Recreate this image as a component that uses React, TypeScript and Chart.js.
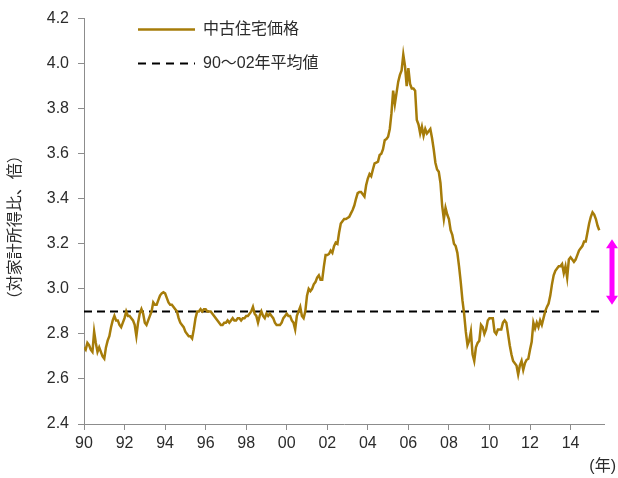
import React, { useEffect, useRef } from "react";
import { Chart, registerables } from "chart.js";

Chart.register(...registerables);

// Monthly ratio of used-home price to household income, Jan 1990 – Jun 2015
const startYear = 1990;
const housePriceRatio: number[] = [
  // 1990
  2.74, 2.73, 2.76, 2.75, 2.73, 2.72, 2.81, 2.76, 2.72, 2.74, 2.72, 2.70,
  // 1991
  2.69, 2.74, 2.77, 2.79, 2.83, 2.86, 2.88, 2.86, 2.86, 2.84, 2.83, 2.85,
  // 1992
  2.87, 2.90, 2.88, 2.88, 2.87, 2.86, 2.84, 2.79, 2.85, 2.89, 2.91, 2.89,
  // 1993
  2.85, 2.84, 2.86, 2.88, 2.90, 2.94, 2.93, 2.93, 2.95, 2.97, 2.98, 2.985,
  // 1994
  2.98, 2.96, 2.94, 2.93, 2.93, 2.92, 2.91, 2.90, 2.87, 2.85, 2.84, 2.83,
  // 1995
  2.81, 2.80, 2.79, 2.79, 2.78, 2.82, 2.87, 2.90, 2.90, 2.91, 2.90, 2.91,
  // 1996
  2.91, 2.90, 2.90, 2.90, 2.89, 2.88, 2.87, 2.86, 2.85, 2.84, 2.84, 2.85,
  // 1997
  2.85, 2.86, 2.85, 2.86, 2.87, 2.86, 2.86, 2.87, 2.87, 2.86, 2.87, 2.87,
  // 1998
  2.88, 2.88, 2.89, 2.90, 2.92, 2.89, 2.88, 2.85, 2.88, 2.90, 2.88, 2.87,
  // 1999
  2.89, 2.88, 2.89, 2.88, 2.87, 2.85, 2.84, 2.84, 2.84, 2.85, 2.87, 2.88,
  // 2000
  2.89, 2.88, 2.88, 2.86, 2.85, 2.82, 2.88, 2.90, 2.92, 2.88, 2.87, 2.90,
  // 2001
  2.97, 3.00, 2.99, 3.00, 3.02, 3.03, 3.05, 3.06, 3.04, 3.04, 3.10, 3.15,
  // 2002
  3.15, 3.155, 3.17, 3.16, 3.19, 3.205, 3.20, 3.25, 3.29, 3.30, 3.31, 3.31,
  // 2003
  3.315, 3.32, 3.335, 3.35, 3.37, 3.40, 3.425, 3.43, 3.43, 3.42, 3.41, 3.46,
  // 2004
  3.49, 3.51, 3.50, 3.53, 3.557, 3.56, 3.565, 3.594, 3.60, 3.62, 3.66, 3.665,
  // 2005
  3.675, 3.71, 3.78, 3.88, 3.82, 3.87, 3.92, 3.95, 3.97, 4.04, 3.99, 3.90,
  // 2006
  3.98, 3.91, 3.89, 3.89, 3.88, 3.75, 3.73, 3.69, 3.72, 3.68, 3.71, 3.69,
  // 2007
  3.70, 3.71, 3.67, 3.62, 3.56, 3.53, 3.52, 3.47, 3.37, 3.31, 3.36, 3.33,
  // 2008
  3.31, 3.26, 3.24, 3.20, 3.19, 3.16, 3.10, 3.03, 2.95, 2.89, 2.81, 2.75,
  // 2009
  2.77, 2.81, 2.71, 2.68, 2.74, 2.76, 2.77, 2.84, 2.83, 2.80, 2.82, 2.86,
  // 2010
  2.87, 2.87, 2.87, 2.81, 2.80, 2.82, 2.82, 2.82, 2.85, 2.86, 2.85, 2.80,
  // 2011
  2.75, 2.71, 2.68, 2.67, 2.66, 2.62, 2.66, 2.68, 2.64, 2.67, 2.685, 2.69,
  // 2012
  2.73, 2.765, 2.85, 2.825, 2.85, 2.83, 2.86, 2.84, 2.87, 2.90, 2.92, 2.935,
  // 2013
  2.97, 3.02, 3.06, 3.08, 3.09, 3.10, 3.10, 3.11, 3.07, 3.10, 3.05, 3.13,
  // 2014
  3.14, 3.13, 3.12, 3.13, 3.15, 3.17, 3.18, 3.19, 3.21, 3.21, 3.25, 3.29,
  // 2015
  3.32, 3.34, 3.33, 3.31, 3.28, 3.26,
];

const averageValue = 2.90; // 90～02年平均値
const arrowTopValue = 3.22;
const arrowBottomValue = 2.93;

const xTickYears = [1990, 1992, 1994, 1996, 1998, 2000, 2002, 2004, 2006, 2008, 2010, 2012, 2014];
const yTickValues = [2.4, 2.6, 2.8, 3.0, 3.2, 3.4, 3.6, 3.8, 4.0, 4.2];
const xMin = 1990;
const xMax = 2015.65;

const seriesLabel = "中古住宅価格";
const averageLabel = "90～02年平均値";
const yTitle = "（対家計所得比、倍）";
const xUnit = "(年)";

const lineColor = "#A67C0A";
const axisColor = "#8C8C8C";
const textColor = "#2b2b2b";
const fontFamily = "'Liberation Sans', Arial, 'Noto Sans CJK JP', sans-serif";
const cjkFont = "'Noto Sans CJK JP', sans-serif";

export default function App() {
  const canvasRef = useRef<HTMLCanvasElement | null>(null);

  useEffect(() => {
    if (!canvasRef.current) return;
    const points = housePriceRatio.map((v, i) => ({ x: startYear + i / 12, y: v }));

    const overlay = {
      id: "overlay",
      afterDraw(chart: any) {
        const ctx = chart.ctx as CanvasRenderingContext2D;
        const area = chart.chartArea;
        const ys = chart.scales.y;
        ctx.save();
        // legend
        const lx0 = area.left + 54;
        const lx1 = area.left + 111;
        const tx = area.left + 119;
        const ly1 = area.top + 11;
        const ly2 = area.top + 45;
        ctx.lineWidth = 2.5;
        ctx.strokeStyle = lineColor;
        ctx.beginPath();
        ctx.moveTo(lx0, ly1);
        ctx.lineTo(lx1, ly1);
        ctx.stroke();
        ctx.strokeStyle = "#000";
        ctx.lineWidth = 2;
        ctx.setLineDash([8, 6]);
        ctx.beginPath();
        ctx.moveTo(lx0, ly2);
        ctx.lineTo(lx1, ly2);
        ctx.stroke();
        ctx.setLineDash([]);
        ctx.fillStyle = textColor;
        ctx.font = `16px ${fontFamily}`;
        ctx.textAlign = "left";
        ctx.textBaseline = "middle";
        ctx.fillText(seriesLabel, tx, ly1);
        ctx.fillText(averageLabel, tx, ly2);

        // y axis title
        ctx.save();
        ctx.font = `16px ${cjkFont}`;
        ctx.translate(14, (area.top + area.bottom) / 2 + 6);
        ctx.rotate(-Math.PI / 2);
        ctx.textAlign = "center";
        ctx.textBaseline = "middle";
        ctx.fillText(yTitle, 0, 0);
        ctx.restore();

        // x unit
        ctx.textAlign = "right";
        ctx.textBaseline = "middle";
        ctx.fillText(xUnit, chart.width - 2, 467);

        // magenta double arrow
        const ax = area.right + 8;
        const yt = ys.getPixelForValue(arrowTopValue);
        const yb = ys.getPixelForValue(arrowBottomValue);
        const headL = 9;
        const headW = 6;
        const shaftW = 2.5;
        ctx.fillStyle = "#FF00FF";
        ctx.beginPath();
        ctx.moveTo(ax, yt);
        ctx.lineTo(ax + headW, yt + headL);
        ctx.lineTo(ax + shaftW, yt + headL);
        ctx.lineTo(ax + shaftW, yb - headL);
        ctx.lineTo(ax + headW, yb - headL);
        ctx.lineTo(ax, yb);
        ctx.lineTo(ax - headW, yb - headL);
        ctx.lineTo(ax - shaftW, yb - headL);
        ctx.lineTo(ax - shaftW, yt + headL);
        ctx.lineTo(ax - headW, yt + headL);
        ctx.closePath();
        ctx.fill();
        ctx.restore();
      },
    };

    const chart = new Chart(canvasRef.current, {
      type: "line",
      data: {
        datasets: [
          {
            label: seriesLabel,
            data: points,
            borderColor: lineColor,
            borderWidth: 2.5,
            pointRadius: 0,
            tension: 0,
            fill: false,
          },
          {
            label: averageLabel,
            data: [
              { x: xMin, y: averageValue },
              { x: xMax, y: averageValue },
            ],
            borderColor: "#000",
            borderWidth: 2,
            borderDash: [8, 5],
            pointRadius: 0,
            fill: false,
          },
        ],
      },
      options: {
        animation: false,
        responsive: false,
        maintainAspectRatio: false,
        layout: { padding: { left: 0, right: 14, top: 13, bottom: 0 } },
        plugins: { legend: { display: false }, tooltip: { enabled: false } },
        scales: {
          x: {
            type: "linear",
            min: xMin,
            max: xMax,
            afterBuildTicks: (s: any) => {
              s.ticks = xTickYears.map((v) => ({ value: v }));
            },
            afterFit: (s: any) => {
              s.height = 54;
            },
            ticks: {
              autoSkip: false,
              maxRotation: 0,
              padding: 4,
              color: textColor,
              font: { family: fontFamily, size: 16 },
              callback: (v: any) => String(Math.round(v) % 100).padStart(2, "0"),
            },
            grid: { display: true, drawOnChartArea: false, drawTicks: true, tickLength: 6, color: axisColor },
            border: { display: true, color: axisColor, width: 1 },
          },
          y: {
            min: 2.4,
            max: 4.2,
            afterBuildTicks: (s: any) => {
              s.ticks = yTickValues.map((v) => ({ value: v }));
            },
            afterFit: (s: any) => {
              s.width = 84;
            },
            ticks: {
              padding: 9,
              color: textColor,
              font: { family: fontFamily, size: 16 },
              callback: (v: any) => Number(v).toFixed(1),
            },
            grid: { display: true, drawOnChartArea: false, drawTicks: true, tickLength: 6, color: axisColor },
            border: { display: true, color: axisColor, width: 1 },
          },
        },
      },
      plugins: [overlay],
    });
    return () => chart.destroy();
  }, []);

  return (
    <div style={{ position: "fixed", left: 0, top: 0, width: 618, height: 478, background: "#fff" }}>
      <canvas ref={canvasRef} width={618} height={478} style={{ width: 618, height: 478 }} />
    </div>
  );
}
